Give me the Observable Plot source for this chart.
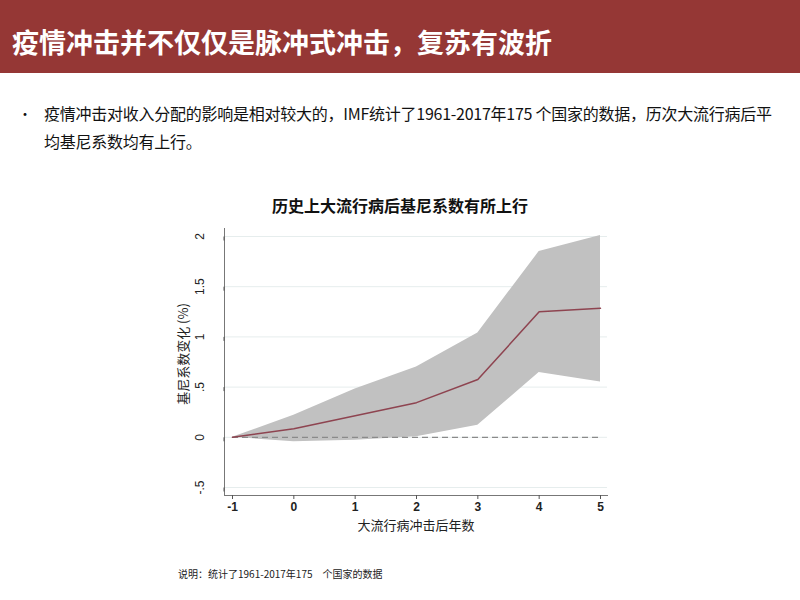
<!DOCTYPE html>
<html>
<head>
<meta charset="utf-8">
<script src="https://cdn.jsdelivr.net/npm/d3@7"></script>
<script src="https://cdn.jsdelivr.net/npm/@observablehq/plot@0.6"></script>
<style>
  html, body { margin: 0; padding: 0; background: #fff; }
  #page { position: relative; width: 800px; height: 600px; overflow: hidden; font-family: "Noto Sans CJK SC", "Noto Sans", sans-serif; }
  #header { position: absolute; left: 0; top: 0; width: 800px; height: 73px; background: #953735; }
  #header h1 { position: absolute; left: 12px; top: 24px; margin: 0; font-size: 27px; line-height: 36px; font-weight: bold; color: #fff; white-space: nowrap; letter-spacing: 0px; }
  #bullet { position: absolute; left: 18px; top: 99px; font-size: 16px; line-height: 28px; color: #111; }
  #bullet .dot { position: absolute; left: 0; top: 0; font-size: 14px; }
  #bullet .txt { position: absolute; left: 26px; top: 0; white-space: nowrap; letter-spacing: -0.25px; }
  #ctitle { position: absolute; left: 200px; width: 400px; top: 193px; text-align: center; font-size: 16px; line-height: 24px; font-weight: bold; color: #111; }
  #chart { position: absolute; left: 165px; top: 220px; }
  #caption { position: absolute; left: 178px; top: 566px; font-size: 10px; line-height: 16px; color: #222; white-space: pre; }
</style>
</head>
<body>
<div id="page">
  <div id="header"><h1 id="maintitle"></h1></div>
  <div id="bullet"><span class="dot">•</span><span class="txt" id="bullettext"></span></div>
  <div id="ctitle"></div>
  <div id="chart"></div>
  <div id="caption"></div>
</div>
<script>
// ---- data ----
const years = [-1, 0, 1, 2, 3, 4, 5];
const giniChange = [0, 0.085, 0.215, 0.345, 0.575, 1.25, 1.285];
const upperBound = [0, 0.22, 0.48, 0.70, 1.04, 1.85, 2.01];
const lowerBound = [0, -0.045, -0.03, 0.005, 0.12, 0.645, 0.55];
const xTicks = [-1, 0, 1, 2, 3, 4, 5];
const yTicks = [-0.5, 0, 0.5, 1, 1.5, 2];
const yTickLabels = ["-.5", "0", ".5", "1", "1.5", "2"];
const mainTitle = "疫情冲击并不仅仅是脉冲式冲击，复苏有波折";
const bulletLines = ["疫情冲击对收入分配的影响是相对较大的，IMF统计了1961-2017年175 个国家的数据，历次大流行病后平", "均基尼系数均有上行。"];
const chartTitle = "历史上大流行病后基尼系数有所上行";
const xLabel = "大流行病冲击后年数";
const yLabel = "基尼系数变化 (%)";
const captionText = "说明：统计了1961-2017年175　个国家的数据";

document.getElementById("maintitle").textContent = mainTitle;
document.getElementById("bullettext").innerHTML = bulletLines.map(s => s.replace(/&/g,"&amp;").replace(/</g,"&lt;")).join("<br>");
document.getElementById("ctitle").textContent = chartTitle;
document.getElementById("caption").textContent = captionText;

const rows = years.map((yr, i) => ({year: yr, value: giniChange[i], hi: upperBound[i], lo: lowerBound[i]}));

const latin = "Liberation Sans, Arial, sans-serif";
const cjk = "Noto Sans CJK SC, sans-serif";

const plot = Plot.plot({
  width: 450,
  height: 320,
  marginLeft: 59,
  marginRight: 8,
  marginTop: 8,
  marginBottom: 45,
  insetLeft: 8,
  insetRight: 7,
  insetTop: 8,
  insetBottom: 8,
  style: {fontFamily: latin, fontSize: "12px", color: "#222", background: "transparent"},
  x: {domain: [-1, 5]},
  y: {domain: [-0.5, 2]},
  marks: [
    Plot.ruleY(yTicks, {stroke: "#e6eded", strokeWidth: 1}),
    Plot.areaY(rows, {x: "year", y1: "lo", y2: "hi", fill: "#c1c1c1", curve: "linear"}),
    Plot.ruleY([0], {x1: -1, x2: 5, stroke: "#8a8a8a", strokeWidth: 1.2, strokeDasharray: "6,4"}),
    Plot.line(rows, {x: "year", y: "value", stroke: "#8e4450", strokeWidth: 1.5}),
    Plot.frame({anchor: "left", stroke: "#777"}),
    Plot.frame({anchor: "bottom", stroke: "#777"}),
    Plot.axisY({ticks: yTicks, tickFormat: d => yTickLabels[yTicks.indexOf(d)], tickSize: 4, tickPadding: 20, rotate: -90, textAnchor: "middle", stroke: "#555", fill: "#222", label: null, fontSize: 12}),
    Plot.axisX({ticks: xTicks, tickFormat: d => String(d), tickSize: 4, tickPadding: 3, stroke: "#555", fill: "#222", label: null, fontSize: 12, fontWeight: "bold"}),
    Plot.text([xLabel], {frameAnchor: "bottom", textAnchor: "middle", lineAnchor: "middle", dy: 30, text: d => d, fontFamily: cjk, fontSize: 13, fill: "#222"}),
    Plot.text([yLabel], {frameAnchor: "left", textAnchor: "middle", lineAnchor: "middle", dx: -41, dy: -8, rotate: -90, text: d => d, fontFamily: cjk, fontSize: 13, fill: "#222"})
  ]
});
document.getElementById("chart").appendChild(plot);
</script>
</body>
</html>
